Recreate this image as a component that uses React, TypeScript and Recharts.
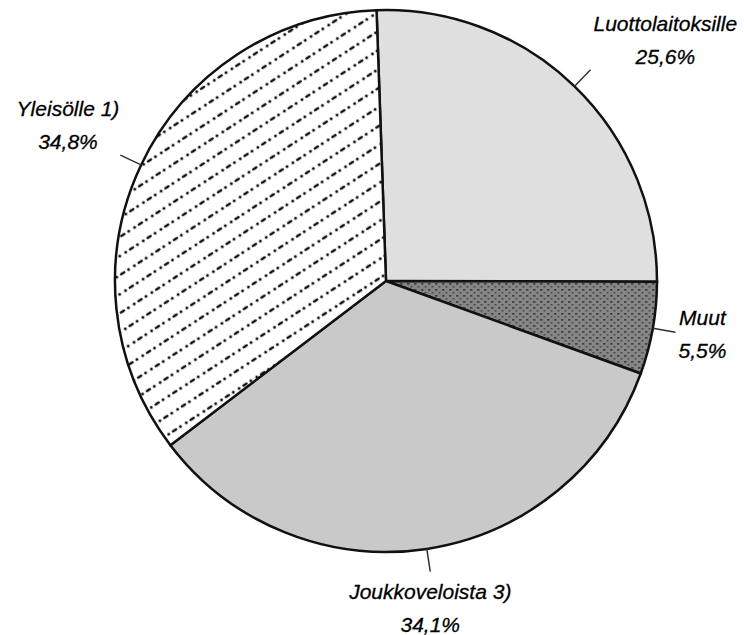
import { PieChart, Pie, Cell } from 'recharts';

const names = ['Luottolaitoksille', 'Muut', 'Joukkoveloista 3)', 'Yleisölle 1)'];
const shares = [25.6, 5.5, 34.1, 34.8];
const shareLabels = ['25,6%', '5,5%', '34,1%', '34,8%'];

const data = names.map((name, i) => ({ name, value: shares[i], label: shareLabels[i] }));

const fills = ['#dfdfdf', 'url(#muutPattern)', '#c9c9c9', 'url(#yleisoPattern)'];

const FONT = 'italic 21px "Liberation Sans", Arial, sans-serif';
const RAD = Math.PI / 180;

let ctx: CanvasRenderingContext2D | null = null;
function textWidth(s: string) {
  if (!ctx) ctx = document.createElement('canvas').getContext('2d');
  if (!ctx) return s.length * 10;
  ctx.font = FONT;
  return ctx.measureText(s).width;
}

function renderLabel(props: any) {
  const { cx, cy, midAngle, outerRadius, index } = props;
  const cos = Math.cos(-midAngle * RAD);
  const sin = Math.sin(-midAngle * RAD);
  const sx = cx + outerRadius * cos;
  const sy = cy + outerRadius * sin;
  const ex = cx + (outerRadius + 23) * cos;
  const ey = cy + (outerRadius + 23) * sin;

  const line1 = names[index];
  const line2 = shareLabels[index];
  const w = Math.max(textWidth(line1), textWidth(line2));

  let centerX = ex;
  if (cos > 0.3) centerX = ex + 3 + w / 2;
  else if (cos < -0.3) centerX = ex - 1 - w / 2;

  let y1 = ey - 7;
  if (sin < -0.3) y1 = ey - 39;
  else if (sin > 0.7) y1 = ey + 27;

  return (
    <g>
      <line x1={sx} y1={sy} x2={ex} y2={ey} stroke="#333" strokeWidth={1.5} />
      <text
        x={centerX}
        y={y1}
        textAnchor="middle"
        style={{ font: FONT }}
        fill="#000"
        stroke="#000"
        strokeWidth={0.3}
      >
        {line1}
      </text>
      <text
        x={centerX}
        y={y1 + 33}
        textAnchor="middle"
        style={{ font: FONT }}
        fill="#000"
        stroke="#000"
        strokeWidth={0.3}
      >
        {line2}
      </text>
    </g>
  );
}

export default function App() {
  return (
    <div style={{ position: 'absolute', left: 0, top: 0, background: '#fff' }}>
      <PieChart width={745} height={635} margin={{ top: 0, right: 0, bottom: 0, left: 0 }}>
        <defs>
          <pattern
            id="yleisoPattern"
            patternUnits="userSpaceOnUse"
            width={21}
            height={16}
            patternTransform="rotate(-33)"
          >
            <rect width={21} height={16} fill="#fff" />
            <circle cx={3} cy={8} r={1.5} fill="#111" />
            <circle cx={10} cy={8} r={1.5} fill="#111" />
            <rect x={14} y={6.8} width={6} height={2.5} rx={1.2} fill="#111" />
          </pattern>
          <pattern id="muutPattern" patternUnits="userSpaceOnUse" width={7} height={6}>
            <rect width={7} height={6} fill="#868686" />
            <rect x={1} y={1} width={2.5} height={1.7} fill="#404040" />
            <rect x={4.5} y={4} width={2} height={1.5} fill="#4a4a4a" />
          </pattern>
        </defs>
        <Pie
          data={data}
          dataKey="value"
          nameKey="name"
          cx={386}
          cy={281}
          outerRadius={271}
          startAngle={92}
          endAngle={-268}
          stroke="#111"
          strokeWidth={2.5}
          label={renderLabel}
          labelLine={false}
          isAnimationActive={false}
        >
          {data.map((d, i) => (
            <Cell key={d.name} fill={fills[i]} />
          ))}
        </Pie>
      </PieChart>
    </div>
  );
}
